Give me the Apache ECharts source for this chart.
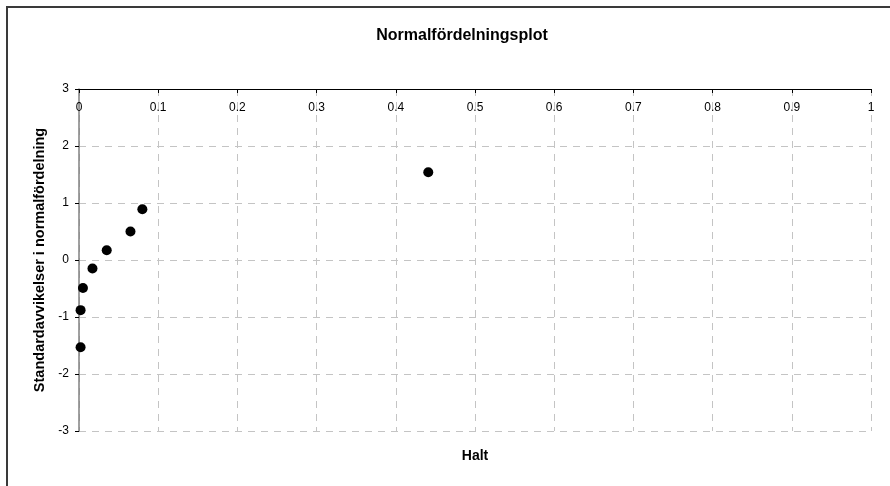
<!DOCTYPE html>
<html>
<head>
<meta charset="utf-8">
<script src="https://cdn.jsdelivr.net/npm/echarts@6/dist/echarts.min.js"></script>
<style>
  html, body { margin: 0; padding: 0; background: #fff; }
  #wrap { position: relative; width: 890px; height: 486px; }
  #frame { position: absolute; left: 6px; top: 6px; right: 0; bottom: 0;
           border-left: 2px solid #3a3a3a; border-top: 2px solid #3a3a3a; }
  #chart { position: absolute; left: 0; top: 0; width: 890px; height: 486px; }
</style>
</head>
<body>
<div id="wrap">
  <div id="frame"></div>
  <div id="chart"></div>
</div>
<script>
// Halt (x) vs standardavvikelser (y)
const halt = [0.002, 0.002, 0.005, 0.017, 0.035, 0.065, 0.080, 0.441];
const stdavv = [-1.53, -0.88, -0.49, -0.15, 0.17, 0.50, 0.89, 1.54];

const points = halt.map((h, i) => [h, stdavv[i]]);

const gridLine = { show: true, lineStyle: { color: '#c4c4c4', type: [7, 6], width: 1 } };
const font = 'Liberation Sans, Arial, sans-serif';

const chart = echarts.init(document.getElementById('chart'));
chart.setOption({
  animation: false,
  backgroundColor: 'transparent',
  title: {
    text: 'Normalfördelningsplot',
    left: 457,
    top: 23,
    textAlign: 'center',
    textStyle: { fontFamily: font, fontSize: 16, fontWeight: 'bold', color: '#000' }
  },
  grid: { left: 79, right: 19, top: 89, bottom: 55 },
  xAxis: {
    type: 'value',
    position: 'top',
    min: 0, max: 1, interval: 0.1,
    name: 'Halt',
    nameLocation: 'middle',
    nameGap: -374,
    nameTextStyle: { fontFamily: font, fontSize: 14, fontWeight: 'bold', color: '#000' },
    axisLine: { show: true, onZero: false, lineStyle: { color: '#000', width: 1 } },
    axisTick: { show: true, inside: true, length: 4, lineStyle: { color: '#000' } },
    axisLabel: { inside: true, margin: 13, fontFamily: font, fontSize: 12, color: '#000',
                 formatter: v => String(+v.toFixed(1)) },
    splitLine: gridLine
  },
  yAxis: {
    type: 'value',
    min: -3, max: 3, interval: 1,
    name: 'Standardavvikelser i normalfördelning',
    nameLocation: 'middle',
    nameGap: 27,
    nameTextStyle: { fontFamily: font, fontSize: 14.5, fontWeight: 'bold', color: '#000' },
    axisLine: { show: true, onZero: false, lineStyle: { color: '#808080', width: 1.5 } },
    axisTick: { show: true, length: 4, lineStyle: { color: '#000' } },
    axisLabel: { margin: 10, fontFamily: font, fontSize: 12, color: '#000' },
    splitLine: gridLine
  },
  series: [{
    type: 'scatter',
    data: points,
    symbol: 'circle',
    symbolSize: 10,
    itemStyle: { color: '#000', opacity: 1 }
  }]
});
</script>
</body>
</html>
